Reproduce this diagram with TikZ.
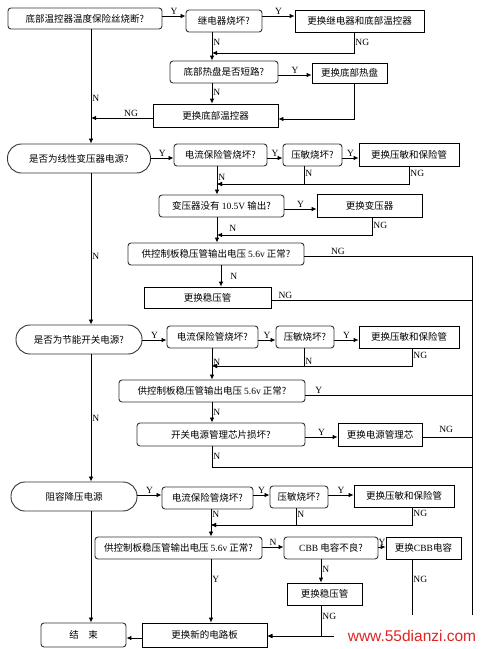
\documentclass[tikz,border=0pt]{standalone}
\usepackage{fontspec}
\setmainfont{Liberation Serif}
\newfontfamily\cjk{Noto Sans CJK SC}
\newfontfamily\wmfont{Liberation Sans}
\usetikzlibrary{arrows.meta}
\newcommand\cjkf{\cjk\fontsize{9.5}{11}\selectfont}
\newcommand\latn[1]{{\rmfamily #1}}
\definecolor{wmred}{RGB}{222,36,36}
\tikzset{
 rbox/.style={draw=black!80, line width=0.9pt, rounded corners=3pt, inner sep=0pt, font=\cjkf},
 sbox/.style={draw=black, line width=0.8pt, inner sep=0pt, font=\cjkf},
 ovalbox/.style={draw=black!80, line width=0.9pt, rounded corners=14pt, inner sep=0pt, font=\cjkf},
 ln/.style={line width=0.8pt},
 arr/.style={ln, -{Latex[length=5pt,width=4.5pt]}},
 lab/.style={font=\fontsize{9.5}{11}\selectfont, inner sep=1pt},
}
\begin{document}
\begin{tikzpicture}[x=1pt,y=-1pt]
\useasboundingbox (0,0) rectangle (482,649);
% ---------- helper coordinates ----------
\coordinate (xM) at (91,0);
\coordinate (xR) at (472,0);
\coordinate (yE) at (0,636);
\coordinate (yE2) at (0,638);
% ---------- section A ----------
\node[rbox, minimum width=154pt, minimum height=21pt] (A1) at (85,18.5) {底部温控器温度保险丝烧断?};
\node[rbox, minimum width=76pt, minimum height=22pt] (A2) at (224,21) {继电器烧坏?};
\node[sbox, minimum width=129pt, minimum height=22pt] (A3) at (359.5,21) {更换继电器和底部温控器};
\node[rbox, minimum width=108pt, minimum height=22pt] (A4) at (224,72) {底部热盘是否短路?};
\node[sbox, minimum width=75pt, minimum height=20pt] (A5) at (349.5,73) {更换底部热盘};
\node[sbox, minimum width=125pt, minimum height=23pt] (A6) at (215.5,115.5) {更换底部温控器};
\coordinate (yA1) at (0,16);
\coordinate (xA) at (212,0);
\coordinate (xA3) at (354,0);
\coordinate (jA1) at (212,53);
\coordinate (yA2) at (0,75);
\coordinate (yA3) at (0,119);
\coordinate (yA4) at (0,118);
\draw[arr] (A1.east |- yA1) -- node[lab,above]{Y} (A2.west |- yA1);
\draw[arr] (A2.east |- yA1) -- node[lab,above]{Y} (A3.west |- yA1);
\draw[arr] (A2.south -| xA) -- node[lab,right,pos=0.35]{N} (A4.north -| xA);
\draw[arr] (A3.south -| xA3) |- node[lab,right,pos=0.25]{NG} (jA1);
\draw[arr] (A4.east |- yA2) -- node[lab,above]{Y} (A5.west |- yA2);
\draw[arr] (A4.south -| xA) -- node[lab,right,pos=0.45]{N} (A6.north -| xA);
\draw[arr] (A5.south -| xA3) |- (A6.east |- yA3);
\draw[arr] (A6.west |- yA4) -- node[lab,above,pos=0.35]{NG} (xM |- yA4);
% ---------- section B ----------
\node[ovalbox, minimum width=143pt, minimum height=29pt] (B0) at (79,158.5) {是否为线性变压器电源?};
\node[rbox, minimum width=93pt, minimum height=22pt] (B1) at (220.5,155) {电流保险管烧坏?};
\node[rbox, minimum width=59pt, minimum height=22pt] (B2) at (312.5,155) {压敏烧坏?};
\node[sbox, minimum width=100pt, minimum height=23pt] (B3) at (409,154.5) {更换压敏和保险管};
\node[rbox, minimum width=125pt, minimum height=22pt] (B4) at (221.5,206) {变压器没有 \latn{10.5V} 输出?};
\node[sbox, minimum width=105pt, minimum height=23pt] (B5) at (369.5,205.5) {更换变压器};
\node[rbox, minimum width=176pt, minimum height=22pt] (B6) at (216,254) {供控制板稳压管输出电压 \latn{5.6v} 正常?};
\node[sbox, minimum width=127pt, minimum height=21pt] (B7) at (207.5,297.5) {更换稳压管};
\draw[arr] (A1.south -| xM) -- node[lab,right,pos=0.6]{N} (B0.north -| xM);
\coordinate (yB1) at (0,158);
\coordinate (xB) at (217,0);
\coordinate (xB2) at (304,0);
\coordinate (xB3) at (409,0);
\coordinate (jB1) at (217,184);
\coordinate (yB2) at (0,209);
\coordinate (xB5) at (372,0);
\coordinate (jB2) at (217,235);
\coordinate (yB3) at (0,256);
\coordinate (xB6) at (221,0);
\coordinate (yB4) at (0,300);
\draw[arr] (B0.east |- yB1) -- node[lab,above]{Y} (B1.west |- yB1);
\draw[arr] (B1.east |- yB1) -- node[lab,above]{Y} (B2.west |- yB1);
\draw[arr] (B2.east |- yB1) -- node[lab,above]{Y} (B3.west |- yB1);
\draw[arr] (B1.south -| xB) -- node[lab,right,pos=0.38]{N} (B4.north -| xB);
\draw[arr] (B2.south -| xB2) |- node[lab,right,pos=0.19]{N} (jB1);
\draw[arr] (B3.south -| xB3) |- node[lab,right,pos=0.19]{NG} (jB1);
\draw[arr] (B4.east |- yB2) -- node[lab,above]{Y} (B5.west |- yB2);
\draw[arr] (B4.south -| xB) -- node[lab,right,pos=0.42,xshift=11pt]{N} (B6.north -| xB);
\draw[arr] (B5.south -| xB5) |- node[lab,right,pos=0.22]{NG} (jB2);
\draw[arr] (B6.south -| xB6) -- node[lab,right,xshift=8pt]{N} (B7.north -| xB6);
\draw[ln] (B7.east |- yB4) -- node[lab,above,pos=0.07]{NG} (xR |- yB4);
% ---------- section C ----------
\node[ovalbox, minimum width=126pt, minimum height=29pt] (C0) at (79,339.5) {是否为节能开关电源?};
\node[rbox, minimum width=91pt, minimum height=22pt] (C1) at (212.5,337) {电流保险管烧坏?};
\node[rbox, minimum width=58pt, minimum height=22pt] (C2) at (305,337) {压敏烧坏?};
\node[sbox, minimum width=100pt, minimum height=22pt] (C3) at (409,337) {更换压敏和保险管};
\node[rbox, minimum width=186pt, minimum height=22pt] (C4) at (212,391) {供控制板稳压管输出电压 \latn{5.6v} 正常?};
\node[rbox, minimum width=168pt, minimum height=23pt] (C5) at (221,434.5) {开关电源管理芯片损坏?};
\node[sbox, minimum width=84pt, minimum height=23pt] (C6) at (380,434.5) {更换电源管理芯};
\draw[arr] (B0.south -| xM) -- node[lab,right,pos=0.55]{N} (C0.north -| xM);
\coordinate (yC1) at (0,340);
\coordinate (xC) at (212,0);
\coordinate (xC2) at (304,0);
\coordinate (xC3) at (412,0);
\coordinate (jC1) at (212,366);
\coordinate (yC2) at (0,395);
\coordinate (yC3) at (0,437);
\coordinate (yC4) at (0,467);
\draw[arr] (C0.east |- yC1) -- node[lab,above]{Y} (C1.west |- yC1);
\draw[arr] (C1.east |- yC1) -- node[lab,above]{Y} (C2.west |- yC1);
\draw[arr] (C2.east |- yC1) -- node[lab,above]{Y} (C3.west |- yC1);
\draw[arr] (C1.south -| xC) -- node[lab,right,pos=0.45]{N} (C4.north -| xC);
\draw[arr] (C2.south -| xC2) |- node[lab,right,pos=0.36]{N} (jC1);
\draw[arr] (C3.south -| xC3) |- node[lab,right,pos=0.2]{NG} (jC1);
\draw[ln] (C4.east |- yC2) -- node[lab,above,pos=0.08]{Y} (xR |- yC2);
\draw[arr] (C4.south -| xC) -- node[lab,right]{N} (C5.north -| xC);
\draw[arr] (C5.east |- yC3) -- node[lab,above]{Y} (C6.west |- yC3);
\draw[ln] (C6.east |- yC3) -- node[lab,above=3pt,pos=0.48]{NG} (xR |- yC3);
\draw[ln] (C5.south -| xC) |- node[lab,right,pos=0.25]{N} (xR |- yC4);
% ---------- section D ----------
\node[ovalbox, minimum width=126pt, minimum height=29pt] (D0) at (74,496.5) {阻容降压电源};
\node[rbox, minimum width=91pt, minimum height=22pt] (D1) at (207.5,498) {电流保险管烧坏?};
\node[rbox, minimum width=58pt, minimum height=22pt] (D2) at (299,497) {压敏烧坏?};
\node[sbox, minimum width=100pt, minimum height=22pt] (D3) at (404,496) {更换压敏和保险管};
\node[rbox, minimum width=167pt, minimum height=22pt] (D4) at (178.5,548) {供控制板稳压管输出电压 \latn{5.6v} 正常?};
\node[rbox, minimum width=94pt, minimum height=22pt] (D5) at (331,548) {\latn{CBB} 电容不良?};
\node[sbox, minimum width=75pt, minimum height=22pt] (D6) at (423.5,548) {更换\latn{CBB}电容};
\node[sbox, minimum width=75pt, minimum height=22pt] (D7) at (324.5,594) {更换稳压管};
\node[sbox, minimum width=125pt, minimum height=24pt] (E2) at (204.5,635) {更换新的电路板};
\node[rbox, minimum width=85pt, minimum height=24pt] (E1) at (83.5,635) {结\hspace{1em}束};
\draw[arr] (C0.south -| xM) -- node[lab,right,pos=0.5]{N} (D0.north -| xM);
\coordinate (yD1) at (0,495);
\coordinate (xD) at (211,0);
\coordinate (xD2) at (296,0);
\coordinate (xD3) at (412,0);
\coordinate (jD1) at (211,525);
\coordinate (yD2) at (0,547);
\coordinate (xD5) at (321,0);
\coordinate (xD6) at (412,0);
\draw[arr] (B6.east |- yB3) -| node[lab,above,pos=0.1]{NG} (xR |- yE) -- (E2.east |- yE);
\draw[arr] (D0.east |- yD1) -- node[lab,above]{Y} (D1.west |- yD1);
\draw[arr] (D1.east |- yD1) -- node[lab,above]{Y} (D2.west |- yD1);
\draw[arr] (D2.east |- yD1) -- node[lab,above]{Y} (D3.west |- yD1);
\draw[arr] (D1.south -| xD) -- node[lab,right,pos=0.2]{N} (D4.north -| xD);
\draw[arr] (D2.south -| xD2) |- node[lab,right,pos=0.18]{N} (jD1);
\draw[arr] (D3.south -| xD3) |- node[lab,right,pos=0.18]{NG} (jD1);
\draw[arr] (D4.east |- yD2) -- node[lab,above]{N} (D5.west |- yD2);
\draw[arr] (D5.east |- yD2) -- node[lab,above]{Y} (D6.west |- yD2);
\draw[arr] (D4.south -| xD) -- node[lab,right,pos=0.31]{Y} (E2.north -| xD);
\draw[arr] (D5.south -| xD5) -- node[lab,right,pos=0.42]{N} (D7.north -| xD5);
\draw[ln] (D6.south -| xD6) -- node[lab,right,pos=0.26]{NG} (xD6 |- yE);
\draw[arr] (E2.west |- yE2) -- (E1.east |- yE2);
\draw[arr] (D0.south -| xM) -- (E1.north -| xM);
% ---------- watermark ----------
\coordinate (mk1) at (334,615);
\coordinate (mk2) at (482,649);
\fill[white] (mk1) rectangle (mk2);
\node[font=\wmfont\fontsize{15.5}{17}\selectfont, text=wmred, inner sep=0pt] (wm) at (412,635.5) {www.55dianzi.com};
\draw[arr] (D7.south -| xD5) |- node[lab,right,pos=0.18]{NG} (E2.east |- yE);
\end{tikzpicture}
\end{document}
